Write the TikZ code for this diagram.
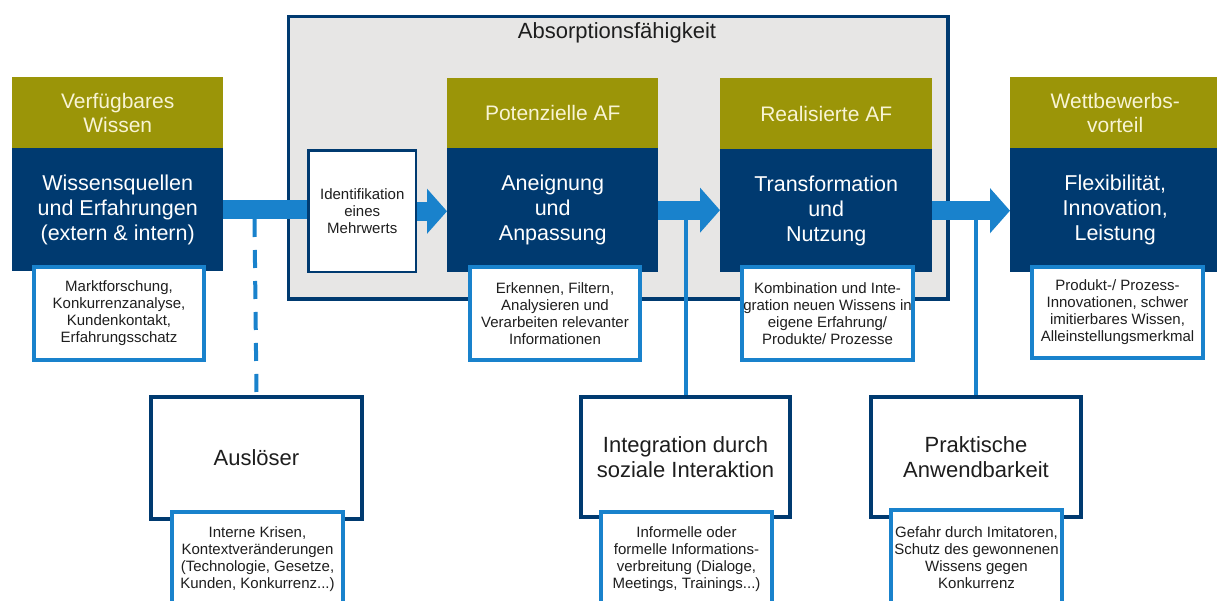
\documentclass[tikz,border=0pt]{standalone}
\usepackage{fontspec}
\setmainfont{Liberation Sans}
\usetikzlibrary{arrows.meta}
\definecolor{olv}{RGB}{155,149,8}
\definecolor{nvy}{RGB}{0,58,112}
\definecolor{blu}{RGB}{25,130,204}
\definecolor{greyf}{RGB}{231,230,229}
\definecolor{cream}{RGB}{248,244,212}
\definecolor{ink}{RGB}{30,30,30}
\begin{document}
\begin{tikzpicture}[x=1pt,y=-1pt,
  hdr/.style={fill=olv, text=cream, inner sep=0pt, font=\fontsize{21}{24}\selectfont, align=center, anchor=north west},
  body/.style={fill=nvy, text=white, inner sep=0pt, font=\fontsize{21.5}{25}\selectfont, align=center, anchor=north west},
  note/.style={draw=blu, line width=4pt, fill=white, text=ink, inner sep=0pt, font=\fontsize{15}{17}\selectfont, align=center, anchor=north west},
  factor/.style={draw=nvy, line width=4pt, fill=white, text=ink, inner sep=0pt, font=\fontsize{22}{25}\selectfont, align=center, anchor=north west},
  flow/.style={draw=blu, line width=19pt},
  flowtip/.style={flow, -{Triangle[length=20pt,width=44pt]}},
  link/.style={draw=blu, line width=4pt}]

\clip (0,0) rectangle (1217,601);
\fill[white] (0,0) rectangle (1217,601);

% grey container
\node[draw=nvy, line width=3.5pt, fill=greyf, inner sep=0pt, anchor=north west,
      minimum width=659.5pt, minimum height=282.5pt] (abs) at (286.75,14.75) {};
\node[text=ink, font=\fontsize{22}{25}\selectfont] (abst) at (617,33) {Absorptionsfähigkeit};

% identification box
\node[draw=nvy, line width=2.5pt, fill=white, text=ink, inner sep=0pt, anchor=north west,
      align=center, font=\fontsize{15}{17}\selectfont,
      minimum width=107.5pt, minimum height=121.5pt] (ident) at (307.25,149.25)
      {Identifikation\\eines\\Mehrwerts};

% main blocks
\node[hdr, minimum width=211pt, minimum height=71pt] (lt) at (12,77) {Verfügbares\\Wissen};
\node[body, minimum width=211pt, minimum height=123pt] (lb) at (12,148) {Wissensquellen\\und Erfahrungen\\(extern \& intern)};

\node[hdr, minimum width=211pt, minimum height=70pt] (pt) at (447,78) {Potenzielle AF};
\node[body, minimum width=211pt, minimum height=124pt] (pb) at (447,148) {Aneignung\\und\\Anpassung};

\node[hdr, minimum width=212pt, minimum height=71pt] (rt) at (720,78) {Realisierte AF};
\node[body, minimum width=212pt, minimum height=123pt] (rb) at (720,149) {Transformation\\und\\Nutzung};

\node[hdr, minimum width=210pt, minimum height=71pt] (wt) at (1010,77) {Wettbewerbs-\\vorteil};
\node[body, minimum width=210pt, minimum height=124pt] (wb) at (1010,148) {Flexibilität,\\Innovation,\\Leistung};

% bottom factor boxes
\node[factor, minimum width=211pt, minimum height=122pt] (ausl) at (149,395) {Auslöser};
\node[factor, minimum width=209pt, minimum height=120pt] (integ) at (579,395) {Integration durch\\soziale Interaktion};
\node[factor, minimum width=210pt, minimum height=120pt] (prak) at (869,395) {Praktische\\Anwendbarkeit};

% vertical links
\coordinate (dtop) at (254.5,219);
\draw[link, dash pattern=on 18pt off 13pt] (dtop) -- (ausl.north);
\draw[link] (integ.north) -- (integ.north |- pb.east);
\draw[link] (prak.north) -- (prak.north |- rb.east);

% flow arrows
\draw[flow] (lb.east) -- (lb.east -| ident.west);
\draw[flowtip] (ident.east) -- (ident.east -| pb.west);
\draw[flowtip] (pb.east) -- (pb.east -| rb.west);
\draw[flowtip] (rb.east) -- (rb.east -| wb.west);

% notes under blocks
\node[note, minimum width=170pt, minimum height=93pt] (ln) at (32,265)
  {Marktforschung,\\Konkurrenzanalyse,\\Kundenkontakt,\\Erfahrungsschatz};
\node[note, minimum width=170pt, minimum height=93pt] (pn) at (468,265)
  {Erkennen, Filtern,\\Analysieren und\\Verarbeiten relevanter\\Informationen};
\node[note, minimum width=171pt, minimum height=93pt] (rn) at (740,265)
  {Kombination und Inte-\\gration neuen Wissens in\\eigene Erfahrung/\\Produkte/ Prozesse};
\node[note, minimum width=171pt, minimum height=91pt] (wn) at (1030,265)
  {Produkt-/ Prozess-\\Innovationen, schwer\\imitierbares Wissen,\\Alleinstellungsmerkmal};

% notes under factor boxes
\node[note, minimum width=171pt, minimum height=94pt] (an) at (170,510)
  {Interne Krisen,\\Kontextveränderungen\\(Technologie, Gesetze,\\Kunden, Konkurrenz...)};
\node[note, minimum width=171pt, minimum height=94pt] (in) at (599,510)
  {Informelle oder\\formelle Informations-\\verbreitung (Dialoge,\\Meetings, Trainings...)};
\node[note, minimum width=171pt, minimum height=96pt] (kn) at (889,508)
  {Gefahr durch Imitatoren,\\Schutz des gewonnenen\\Wissens gegen\\Konkurrenz};
\end{tikzpicture}
\end{document}
